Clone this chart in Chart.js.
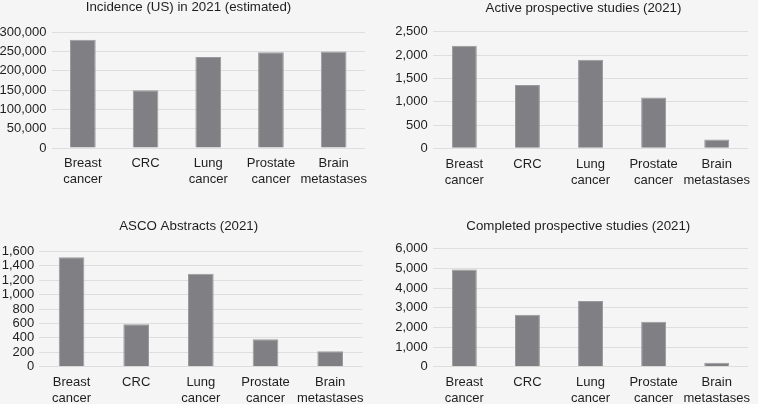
<!DOCTYPE html>
<html>
<head>
<meta charset="utf-8">
<script src="https://cdn.jsdelivr.net/npm/chart.js@4.4.1/dist/chart.umd.min.js"></script>
<style>
  html, body { margin: 0; padding: 0; background: #f5f5f5; }
  #wrap { position: relative; width: 758px; height: 404px; overflow: hidden; }
  #wrap canvas { position: absolute; }
</style>
</head>
<body>
<div id="wrap">
  <canvas id="c1" width="380" height="200" style="left:0;top:0;width:380px;height:200px"></canvas>
  <canvas id="c2" width="378" height="200" style="left:380px;top:0;width:378px;height:200px"></canvas>
  <canvas id="c3" width="380" height="204" style="left:0;top:200px;width:380px;height:204px"></canvas>
  <canvas id="c4" width="378" height="204" style="left:380px;top:200px;width:378px;height:204px"></canvas>
</div>
<script>
// datos
const categories = [["Breast", "cancer"], "CRC", ["Lung", "cancer"], ["Prostate", "cancer"], ["Brain", "metastases"]];
const incidence = [281000, 150000, 236000, 248000, 250000];
const activeStudies = [2200, 1360, 1900, 1090, 190];
const ascoAbstracts = [1520, 590, 1290, 380, 215];
const completedStudies = [4950, 2640, 3350, 2290, 200];

const titles = ["Incidence (US) in 2021 (estimated)", "Active prospective studies (2021)", "ASCO Abstracts (2021)", "Completed prospective studies (2021)"];
const yMax = [300000, 2500, 1600, 6000];
const yStep = [50000, 500, 200, 1000];

const FONT = "'Liberation Sans', Arial, Helvetica, sans-serif";
const TEXT = "#1e1e1e";

function makeChart(id, title, values, max, step, lay) {
  const ctx = document.getElementById(id).getContext("2d");
  // centra el título donde está en la imagen original
  const titleShift = {
    id: "titleShift",
    afterLayout(chart) {
      const t = chart.titleBlock;
      const w = t.right - t.left;
      t.left = lay.tx - w / 2;
      t.right = lay.tx + w / 2;
    }
  };
  return new Chart(ctx, {
    type: "bar",
    data: {
      labels: categories,
      datasets: [{
        data: values,
        backgroundColor: "#808084",
        borderColor: "#9a9a9d",
        borderWidth: 1,
        barPercentage: lay.bar,
        categoryPercentage: 1
      }]
    },
    options: {
      responsive: false,
      animation: false,
      layout: { padding: { left: 0, right: lay.pr, top: lay.pt, bottom: 0 } },
      plugins: {
        legend: { display: false },
        tooltip: { enabled: false },
        title: {
          display: true, text: title, color: TEXT,
          font: { family: FONT, size: 13.3, weight: "normal", lineHeight: 14 / 13.3 },
          padding: { top: 0, bottom: lay.tb }
        }
      },
      scales: {
        x: {
          grid: { display: false, drawTicks: false },
          border: { display: false },
          ticks: { color: TEXT, autoSkip: false, maxRotation: 0, padding: 7.8,
                   font: { family: FONT, size: 13, lineHeight: 16 / 13 } },
          afterFit: s => { s.height = lay.xh; }
        },
        y: {
          min: 0, max: max,
          grid: { color: "#dedede", drawTicks: false, lineWidth: 1 },
          border: { display: false },
          ticks: { stepSize: step, color: TEXT, autoSkip: false, padding: 5,
                   font: { family: FONT, size: 13 } },
          afterFit: s => { s.width = lay.yw; }
        }
      }
    },
    plugins: [titleShift]
  });
}

makeChart("c1", titles[0], incidence, yMax[0], yStep[0],
  { pr: 15, pt: 0, tb: 18.3, yw: 51.5, xh: 52, bar: 0.41, tx: 188.5 });
makeChart("c2", titles[1], activeStudies, yMax[1], yStep[1],
  { pr: 2.5, pt: 1.3, tb: 16.6, yw: 52.8, xh: 51.7, bar: 0.395, tx: 203.5 });
makeChart("c3", titles[2], ascoAbstracts, yMax[2], yStep[2],
  { pr: 17.5, pt: 19.7, tb: 17.8, yw: 39.2, xh: 37.3, bar: 0.397, tx: 188.7 });
makeChart("c4", titles[3], completedStudies, yMax[3], yStep[3],
  { pr: 2.5, pt: 19.7, tb: 15.2, yw: 52.8, xh: 37.3, bar: 0.395, tx: 198.3 });
</script>
</body>
</html>
